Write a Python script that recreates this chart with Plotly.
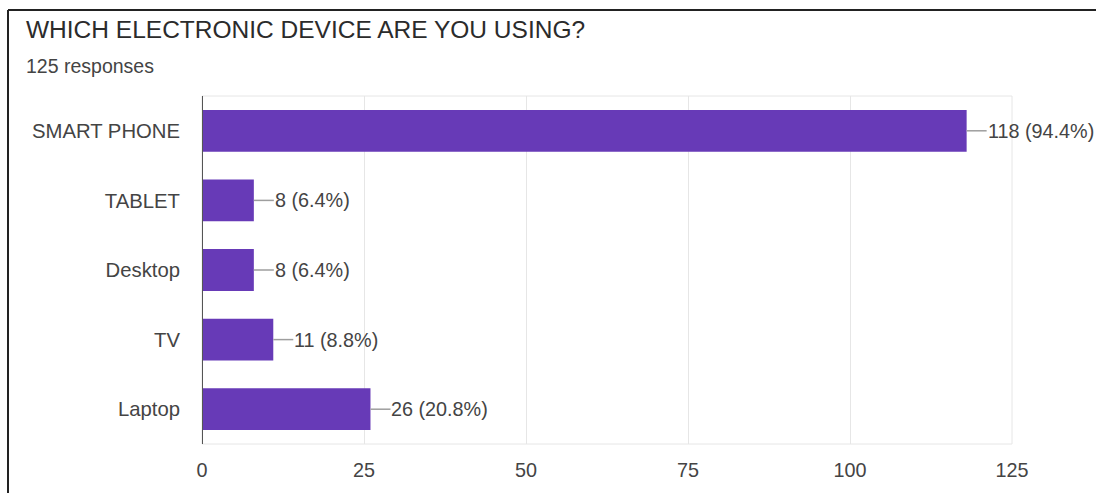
import plotly.graph_objects as go

# Survey responses: which electronic device are you using?
devices = ["SMART PHONE", "TABLET", "Desktop", "TV", "Laptop"]
counts = [118, 8, 8, 11, 26]
total_responses = 125
x_ticks = [0, 25, 50, 75, 100, 125]

bar_color = "#673ab7"
text_color = "#444444"
font_family = "Liberation Sans, Arial, sans-serif"

# plot area in pixels
W, H = 1096, 493
L, R, T, B = 202, 84, 96, 49
pw = W - L - R
ph = H - T - B


def px_x(p):
    return (p - L) / pw


def px_y(p):
    return (H - B - p) / ph


labels = [f"{c} ({c / total_responses * 100:.1f}%)" for c in counts]

fig = go.Figure(
    go.Bar(
        x=counts,
        y=devices,
        orientation="h",
        width=0.6,
        marker=dict(color=bar_color, line=dict(width=0)),
        hoverinfo="skip",
    )
)

# leader line + value label for every bar
for dev, c, lab in zip(devices, counts, labels):
    fig.add_shape(
        type="line",
        xref="x", yref="y",
        xsizemode="pixel", xanchor=c, x0=0, x1=20,
        y0=dev, y1=dev,
        line=dict(color="#9e9e9e", width=1.5),
    )
    fig.add_annotation(
        x=c, y=dev, xref="x", yref="y",
        text=lab, showarrow=False,
        xanchor="left", yanchor="middle", xshift=19,
        font=dict(size=19.8, color=text_color, family=font_family),
    )

# header texts
fig.add_annotation(
    x=px_x(24), y=px_y(30), xref="paper", yref="paper",
    text="WHICH ELECTRONIC DEVICE ARE YOU USING?", showarrow=False,
    xanchor="left", yanchor="middle",
    font=dict(size=24.5, color="#2b2b2b", family=font_family),
)
fig.add_annotation(
    x=px_x(24), y=px_y(66), xref="paper", yref="paper",
    text=f"{total_responses} responses", showarrow=False,
    xanchor="left", yanchor="middle",
    font=dict(size=19.5, color=text_color, family=font_family),
)

# outer frame (left and top edges)
fig.add_shape(type="line", xref="paper", yref="paper",
              x0=px_x(8), x1=px_x(8), y0=px_y(10), y1=px_y(H + 10),
              line=dict(color="#222222", width=2))
fig.add_shape(type="line", xref="paper", yref="paper",
              x0=px_x(8), x1=px_x(W + 10), y0=px_y(10), y1=px_y(10),
              line=dict(color="#222222", width=2))

# plot frame (light)
fig.add_shape(type="rect", xref="paper", yref="paper",
              x0=0, x1=1, y0=0, y1=1,
              line=dict(color="#e6e6e6", width=1), layer="below")

fig.update_layout(
    width=W, height=H,
    margin=dict(l=L, r=R, t=T, b=B),
    paper_bgcolor="white",
    plot_bgcolor="white",
    showlegend=False,
    bargap=0.4,
    xaxis=dict(
        range=[0, 125],
        tickvals=x_ticks,
        showgrid=True, gridcolor="#e6e6e6", gridwidth=1,
        zeroline=False,
        showline=False,
        ticks="",
        ticklabelstandoff=12,
        tickfont=dict(size=19.8, color=text_color, family=font_family),
        fixedrange=True,
    ),
    yaxis=dict(
        categoryorder="array",
        categoryarray=devices[::-1],
        showgrid=False,
        zeroline=False,
        showline=False,
        ticks="",
        ticklabelstandoff=21,
        tickfont=dict(size=20.3, color=text_color, family=font_family),
        fixedrange=True,
    ),
)

# axis baseline at zero
fig.add_shape(type="line", xref="x", yref="paper",
              x0=0, x1=0, y0=0, y1=1,
              line=dict(color="#555555", width=2))

fig.write_html("out.html")
